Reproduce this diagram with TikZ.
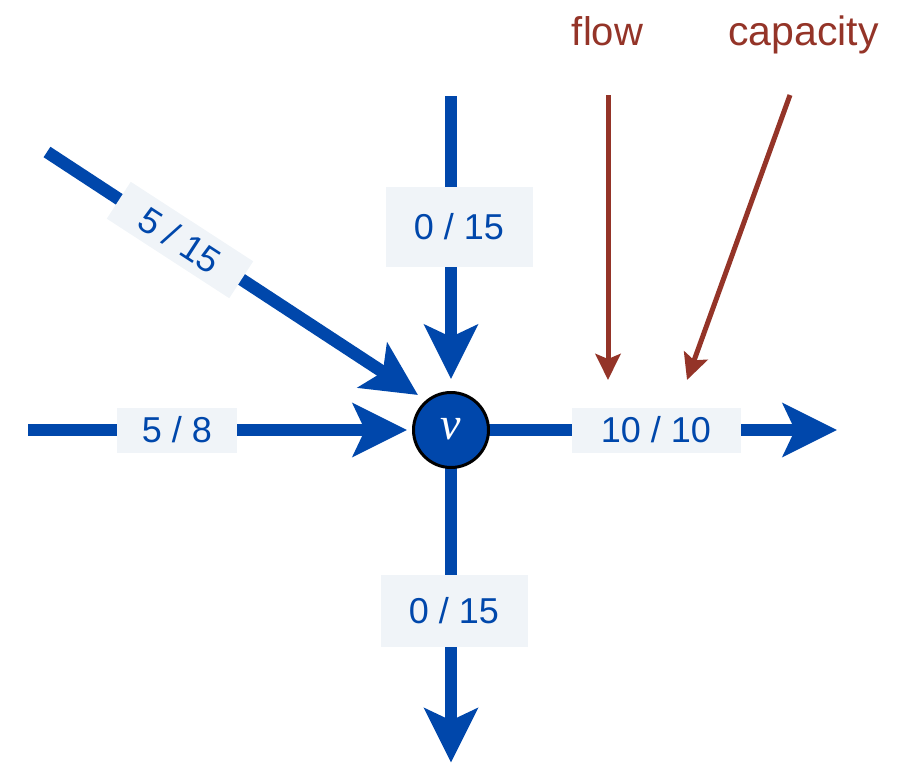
\documentclass[tikz,border=0pt]{standalone}
\usepackage{fontspec}
\setmainfont{Liberation Sans}
\newfontfamily\vfont{Liberation Serif}
\usetikzlibrary{arrows.meta,backgrounds}
\definecolor{eblue}{RGB}{0,71,171}
\definecolor{boxfill}{RGB}{240,244,248}
\definecolor{fred}{RGB}{148,52,40}
\begin{document}
\begin{tikzpicture}[x=1pt,y=-1pt,
  edge/.style={draw=eblue,line width=12.5pt,-{Stealth[length=54pt,width=53pt,inset=12pt]}},
  plain/.style={draw=eblue,line width=12.5pt},
  lbl/.style={fill=boxfill,text=eblue,inner sep=0pt,font=\fontsize{36}{40}\selectfont},
  note/.style={text=fred,inner sep=0pt,anchor=base,font=\fontsize{40}{44}\selectfont},
  pointer/.style={draw=fred,line width=5pt,-{Stealth[length=26pt,width=25pt,inset=5pt]}}]
\useasboundingbox (0,0) rectangle (910,763);
\node[circle,draw=black,line width=3pt,fill=eblue,minimum size=75pt,inner sep=0pt,text=white,font=\vfont\itshape\fontsize{46}{48}\selectfont] (v) at (451,430) {\raisebox{2pt}{v}};
\coordinate (lin) at (28,430);
\coordinate (tin) at (451,96);
\coordinate (din) at (47,152);
\coordinate (dtip) at (418,395);
\coordinate (rout) at (837,430);
\coordinate (bout) at (451,763);
\begin{pgfonlayer}{background}
\draw[edge,shorten >=5pt] (lin) -- (v);
\draw[edge,shorten >=12pt] (tin) -- (v);
\draw[edge] (din) -- (dtip);
\draw[edge] (v.center) -- (rout);
\draw[edge,shorten >=0.5pt] (v.center) -- (bout);
\end{pgfonlayer}
\node[lbl,minimum width=120pt,minimum height=45pt] (l1) at (177,430) {5 / 8};
\node[lbl,minimum width=147pt,minimum height=80pt] (l2) at (459,227) {0 / 15};
\node[lbl,minimum width=146pt,minimum height=44pt,rotate=-33] (l3) at (180,240) {5 / 15};
\node[lbl,minimum width=169pt,minimum height=45pt] (l4) at (656,430) {10 / 10};
\node[lbl,minimum width=147pt,minimum height=72pt] (l5) at (454,611) {0 / 15};
\node[note] (flow) at (607.5,45) {flow};
\node[note,font=\fontsize{41}{44}\selectfont] (cap) at (803.5,45) {capacity};
\coordinate (fs) at (608,95);
\coordinate (ft) at (608,380);
\coordinate (cs) at (790,95);
\coordinate (ct) at (687,380);
\draw[pointer] (fs) -- (ft);
\draw[pointer] (cs) -- (ct);
\end{tikzpicture}
\end{document}
